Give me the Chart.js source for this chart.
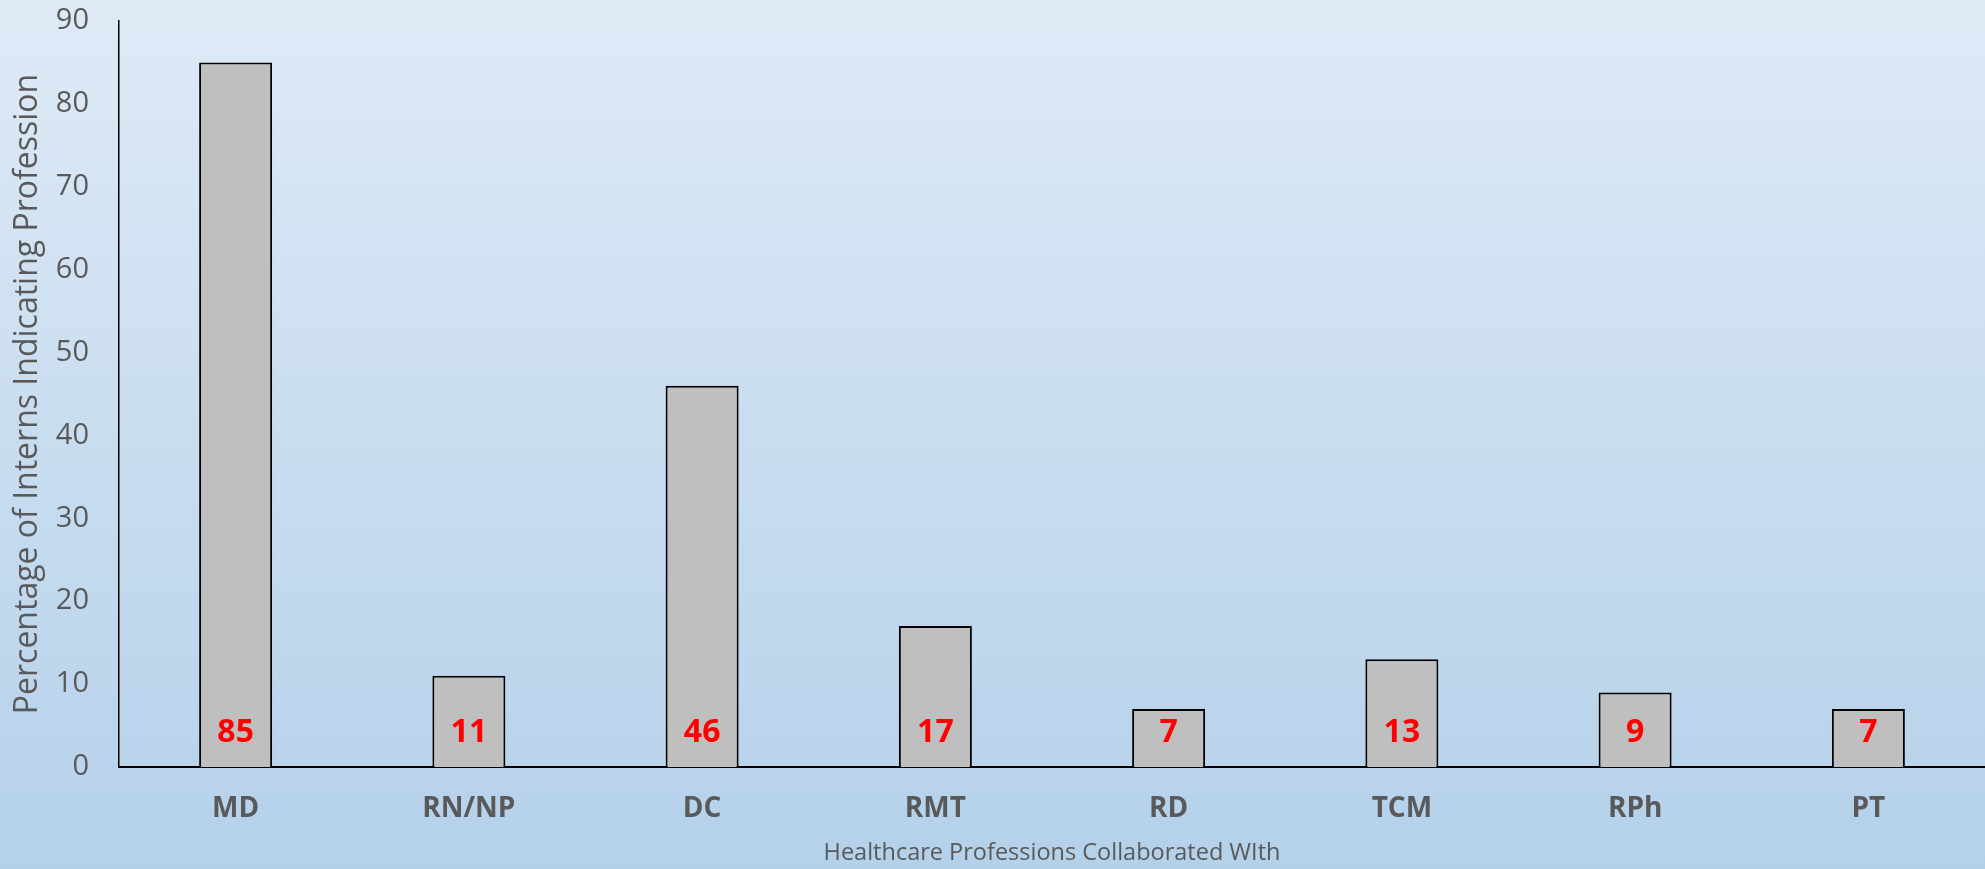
<!DOCTYPE html>
<html>
<head>
<meta charset="utf-8">
<script src="https://cdn.jsdelivr.net/npm/chart.js@4"></script>
<style>
  html, body { margin: 0; padding: 0; overflow: hidden; }
  #wrap { width: 1985px; height: 869px; }
</style>
</head>
<body>
<div id="wrap"><canvas id="grafico"></canvas></div>
<script>
// Datos del gráfico
var profesiones = ['MD', 'RN/NP', 'DC', 'RMT', 'RD', 'TCM', 'RPh', 'PT'];
var porcentajes = [85, 11, 46, 17, 7, 13, 9, 7];
var ejeY = { min: 0, max: 90, paso: 10 };

var gris = '#595959';
var fuente = "'Open Sans', 'Noto Sans', sans-serif";

// Fondo degradado azul claro
var fondo = {
    id: 'fondo',
    beforeDraw: function(chart) {
        var ctx = chart.ctx;
        var g = ctx.createLinearGradient(0, 0, 0, chart.height);
        g.addColorStop(0, '#dfeaf6');
        g.addColorStop(0.5, '#c9ddf0');
        g.addColorStop(1, '#b4d1ea');
        ctx.save();
        ctx.fillStyle = g;
        ctx.fillRect(0, 0, chart.width, chart.height);
        ctx.restore();
    }
};

// Etiquetas rojas con el valor, cerca de la base de cada barra
var etiquetas = {
    id: 'etiquetas',
    afterDatasetsDraw: function(chart) {
        var ctx = chart.ctx;
        var meta = chart.getDatasetMeta(0);
        var base = chart.scales.y.getPixelForValue(0);
        ctx.save();
        ctx.font = 'bold 32px ' + fuente;
        ctx.fillStyle = '#ff0000';
        ctx.textAlign = 'center';
        ctx.textBaseline = 'middle';
        meta.data.forEach(function(bar, i) {
            ctx.fillText(String(chart.data.datasets[0].data[i]), bar.x, base - 34);
        });
        ctx.restore();
    }
};

var ctx = document.getElementById('grafico').getContext('2d');
var grafico = new Chart(ctx, {
    type: 'bar',
    data: {
        labels: profesiones,
        datasets: [{
            data: porcentajes,
            backgroundColor: '#bfbfbf',
            borderColor: '#000000',
            borderWidth: 2,
            barPercentage: 1,
            categoryPercentage: 0.313,
        }],
    },
    options: {
        responsive: true,
        maintainAspectRatio: false,
        animation: false,
        layout: { padding: 0 },
        plugins: {
            legend: { display: false },
            tooltip: { enabled: false },
        },
        scales: {
            x: {
                grid: { display: false, drawTicks: false },
                border: { color: '#000000', width: 2 },
                ticks: {
                    color: gris,
                    font: { family: fuente, size: 28, weight: 'bold' },
                    padding: 25,
                },
                title: {
                    display: true,
                    text: 'Healthcare Professions Collaborated WIth',
                    color: gris,
                    font: { family: fuente, size: 23.5 },
                    padding: { top: 0, bottom: 2 },
                },
                afterFit: function(scale) {
                    scale.height = 102;
                    scale.paddingLeft = 0;
                    scale.paddingRight = 0;
                },
            },
            y: {
                min: ejeY.min,
                max: ejeY.max,
                grid: { display: false, drawTicks: false },
                border: { color: '#000000', width: 1.5 },
                ticks: {
                    stepSize: ejeY.paso,
                    color: gris,
                    font: { family: fuente, size: 29 },
                    padding: 30,
                },
                title: {
                    display: true,
                    text: 'Percentage of Interns Indicating Profession',
                    color: gris,
                    font: { family: fuente, size: 32 },
                    padding: { top: 9, bottom: 0 },
                },
                afterFit: function(scale) {
                    scale.width = 119;
                    scale.paddingTop = 21;
                    scale.paddingBottom = 0;
                },
            },
        },
    },
    plugins: [fondo, etiquetas],
});
</script>
</body>
</html>
